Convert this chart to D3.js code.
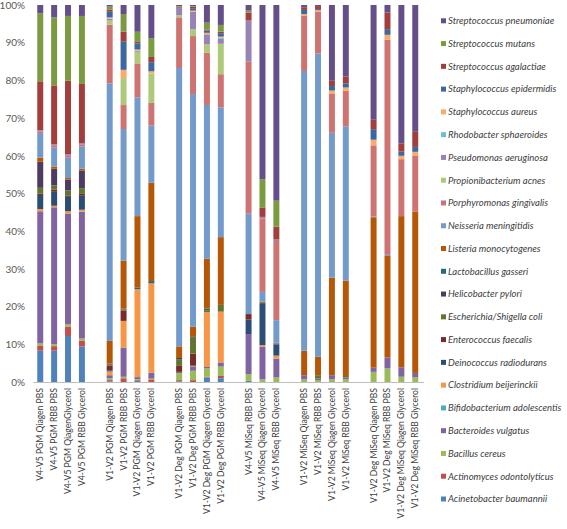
<!DOCTYPE html>
<html><head><meta charset="utf-8">
<script src="https://cdn.jsdelivr.net/npm/d3@7/dist/d3.min.js"></script>
<style>body{margin:0;background:#fff;} svg{display:block;}</style>
</head><body><svg id="c" width="567" height="529"></svg>
<script>
const categories = [
  "V4-V5 PGM Qiagen PBS","V4-V5 PGM RBB  PBS","V4-V5 PGM QiagenGlycerol","V4-V5 PGM RBB  Glycerol",
  "V1-V2 PGM Qiagen PBS","V1-V2 PGM RBB  PBS","V1-V2 PGM Qiagen Glycerol","V1-V2 PGM RBB  Glycerol",
  "V1-V2 Deg PGM Qiagen PBS","V1-V2 Deg PGM RBB  PBS","V1-V2 Deg PGM Qiagen Glycerol","V1-V2 Deg PGM RBB Glycerol",
  "V4-V5 MiSeq RBB PBS","V4-V5 MiSeq Qiagen Glycerol","V4-V5 MiSeq RBB Glycerol",
  "V1-V2 MiSeq Qiagen PBS","V1-V2 MiSeq RBB PBS","V1-V2 MiSeq Qiagen Glycerol","V1-V2 MiSeq RBB Glycerol",
  "V1-V2 Deg MiSeq Qiagen PBS","V1-V2 Deg MiSeq RBB PBS","V1-V2 Deg MiSeq Qiagen Glycerol","V1-V2 Deg MiSeq RBB Glycerol"
];
const groupIndex = [0,0,0,0,1,1,1,1,2,2,2,2,3,3,3,4,4,4,4,5,5,5,5];

const species = [
  "Acinetobacter baumannii","Actinomyces odontolyticus","Bacillus cereus","Bacteroides vulgatus",
  "Bifidobacterium adolescentis","Clostridium beijerinckii","Deinococcus radiodurans","Enterococcus faecalis",
  "Escherichia/Shigella coli","Helicobacter pylori","Lactobacillus gasseri","Listeria monocytogenes",
  "Neisseria meningitidis","Porphyromonas gingivalis","Propionibacterium acnes","Pseudomonas aeruginosa",
  "Rhodobacter sphaeroides","Staphylococcus aureus","Staphylococcus epidermidis","Streptococcus agalactiae",
  "Streptococcus mutans","Streptococcus pneumoniae"
];
const colors = [
  "#4F81BD","#C0504D","#9BBB59","#8064A2","#4BACC6","#F79646",
  "#2C4D75","#772C2A","#5F7530","#4D3B62","#276A7C","#B65708",
  "#729ACA","#CD7371","#AFC97A","#9983B5","#6FBDD1","#F9AB6B",
  "#3B68A0","#A23E3B","#7B9B41","#654F8A"
];

// percent abundance per sample (23 samples, in category order)
const acinetobacter     = [8.3,8.3,12.2,9.4,0.2,0,0.3,0,0.2,0,1.2,1.0,0.3,0,0,0,0,0,0,0,0,0,0];
const actinomyces       = [1.4,1.2,2.5,1.6,0.3,1.0,0.2,0.7,0.3,0.5,0.2,0.6,0,0,0,0,0,0,0,0,0,0,0];
const bacillus          = [0.5,0.5,0.6,0.5,0.5,0.4,0.3,0.2,1.9,2.5,2.2,2.5,1.8,0.7,1.2,0.7,0.5,0.7,0.7,2.7,3.6,1.4,1.2];
const bacteroides       = [35.0,36.3,29.4,33.6,0.8,7.8,0.5,1.6,0.3,1.0,0.4,1.1,10.6,8.7,5.0,1.1,0.4,1.1,0.5,1.1,2.9,2.5,1.2];
const bifidobacterium   = [0,0,0,0,0,0,0,0,0,0,0,0,0,0,0,0,0,0,0,0,0,0,0];
const clostridium       = [0.6,0.4,0.6,0.5,1.0,7.1,23.3,23.7,0,0.2,14.6,13.5,0,0.4,0.8,0,0,0,0,0,0,0,0];
const deinococcus       = [3.7,3.7,3.8,3.7,0.3,0,0,0,0,0.2,0,0,3.9,10.9,3.0,0,0,0,0,0,0,0,0];
const enterococcus      = [0.4,0.6,0.4,0.5,1.2,2.8,0,0,1.6,3.2,0,0,1.4,0,0,0,0,0,0,0,0,0,0];
const escherichia       = [1.5,1.1,1.3,1.5,0.3,0.3,0,0,1.8,4.4,0.5,1.8,0,0,0,0,0.9,0,0.4,0,0,0,0];
const helicobacter      = [6.9,4.4,2.9,4.7,0.3,0.2,0,0,0.3,0.2,0,0,0,0,0,0,0,0,0,0,0,0,0];
const lactobacillus     = [0,0,0,0,0,0,0.5,0.6,0,0,0.4,0,0,0.3,0.2,0,0,0,0,0,0,0,0];
const listeria          = [1.1,0.6,0.4,0.5,6.0,12.8,18.9,26.1,3.1,2.6,13.3,18.0,0,0.3,0.2,6.5,4.9,25.9,25.3,40.0,26.9,40.1,42.7];
const neisseria         = [6.5,5.0,5.4,5.8,68.3,35.1,31.5,15.2,74.3,62.1,40.9,34.5,26.7,2.6,6.0,74.2,80.5,38.4,41.0,0.2,0.3,0,0];
const porphyromonas     = [0.4,0.5,0.5,0.5,15.6,6.4,9.0,6.0,13.5,15.5,13.9,8.8,40.2,19.5,21.0,14.6,11.1,10.3,9.4,18.9,57.0,15.1,14.8];
const propionibacterium = [0,0,0,0,1.1,7.2,3.1,7.8,0.6,1.8,2.2,8.1,0,0,0,0,0,0,0,0,0,0,0];
const pseudomonas       = [0.3,0.4,0.4,0.4,0.4,0,0.3,0,2.0,4.7,2.7,1.3,10.9,0.4,0.4,0,0,0,0,0,0,0,0];
const rhodobacter       = [0,0,0,0,0.1,0,0,0,0,0,0,0.3,0,0,0,0,0,0,0,0,0,0,0];
const staphAureus       = [0,0,0,0,0.3,2.2,0.3,0.6,0,0.3,0.4,0.3,0,0,0,0.5,0.4,0.9,0.9,1.5,1.3,0.9,1.1];
const staphEpidermidis  = [0,0,0,0,1.5,7.5,1.6,2.4,0,0.5,0.6,0.9,0,0,0,1.1,0.3,1.2,1.1,2.8,1.5,1.1,1.3];
const strepAgalactiae   = [13.0,15.6,19.5,15.7,0.6,2.7,0.4,1.4,0.2,0.5,0.3,0.4,2.1,2.5,3.4,0.7,0.8,1.4,1.8,2.5,4.4,2.2,4.0];
const strepMutans       = [18.0,18.0,17.2,18.0,0.8,4.7,2.7,5.0,0.2,0.2,1.8,1.8,0.5,7.5,6.9,0,0,0,0,0,0,0,0];
const strepPneumoniae   = [2.2,3.3,2.9,2.9,0.4,2.4,7.1,8.8,0.3,0.3,4.7,5.3,1.5,46.2,51.9,0.6,0.3,20.1,19.0,30.5,2.0,36.7,33.6];

const seriesValues = [acinetobacter,actinomyces,bacillus,bacteroides,bifidobacterium,clostridium,deinococcus,
  enterococcus,escherichia,helicobacter,lactobacillus,listeria,neisseria,porphyromonas,propionibacterium,
  pseudomonas,rhodobacter,staphAureus,staphEpidermidis,strepAgalactiae,strepMutans,strepPneumoniae];
const yTicks = [0,0.1,0.2,0.3,0.4,0.5,0.6,0.7,0.8,0.9,1.0];

const nSlots = categories.length + groupIndex[groupIndex.length-1];
const table = categories.map((c,i)=>{
  const row = {slot: i + groupIndex[i], label: c};
  species.forEach((s,k)=>{ row[s] = seriesValues[k][i]; });
  return row;
});
const slotLabel = new Map(table.map(d=>[d.slot,d.label]));

const svg = d3.select("#c");
const x = d3.scaleBand().domain(d3.range(nSlots)).range([33.3,422.2]).paddingInner(0.57).paddingOuter(0.285);
const y = d3.scaleLinear().domain([0,1]).range([382,5]);
const color = d3.scaleOrdinal().domain(species).range(colors);

const layers = d3.stack().keys(species).offset(d3.stackOffsetExpand)(table);

svg.append("g").selectAll("g").data(layers).join("g")
  .attr("fill", d=>color(d.key))
  .selectAll("rect").data(d=>d).join("rect")
  .attr("x", d=>x(d.data.slot))
  .attr("width", x.bandwidth())
  .attr("y", d=>y(d[1]))
  .attr("height", d=>Math.max(0, y(d[0])-y(d[1])));

// x axis
const xAxis = svg.append("g").attr("transform","translate(0,382)")
  .call(d3.axisBottom(x).tickSize(0).tickSizeOuter(0).tickFormat(s=>slotLabel.get(s)||""));
xAxis.select(".domain").attr("stroke","#BFBFBF").attr("d","M33.3,0.5H424");
xAxis.selectAll("text")
  .attr("transform","rotate(-90)")
  .attr("text-anchor","end")
  .attr("x",-6).attr("y",0).attr("dy","0.35em")
  .attr("fill","#404040")
  .style("font-family","Lato, 'Open Sans', sans-serif").style("font-size","8.6px");

// y axis
const yAxis = svg.append("g").attr("transform","translate(33,0)")
  .call(d3.axisLeft(y).tickValues(yTicks).tickFormat(d3.format(".0%")).tickSize(0).tickPadding(8));
yAxis.select(".domain").remove();
yAxis.selectAll("text").attr("fill","#595959")
  .style("font-family","Lato, 'Open Sans', sans-serif").style("font-size","10px");

// legend
const legendSpecies = species.slice().reverse();
const ly = d3.scalePoint().domain(legendSpecies).range([20.8,499]);
const lg = svg.append("g").selectAll("g").data(legendSpecies).join("g")
  .attr("transform", d=>`translate(441,${ly(d)})`);
lg.append("rect").attr("x",0).attr("y",-2.5).attr("width",5).attr("height",5).attr("fill",d=>color(d));
lg.append("text").attr("x",7).attr("y",0).attr("dy","0.35em").text(d=>d)
  .attr("fill","#404040").style("font-family","Lato, 'Open Sans', sans-serif")
  .style("font-size","9.5px").style("font-style","italic");
</script></body></html>
